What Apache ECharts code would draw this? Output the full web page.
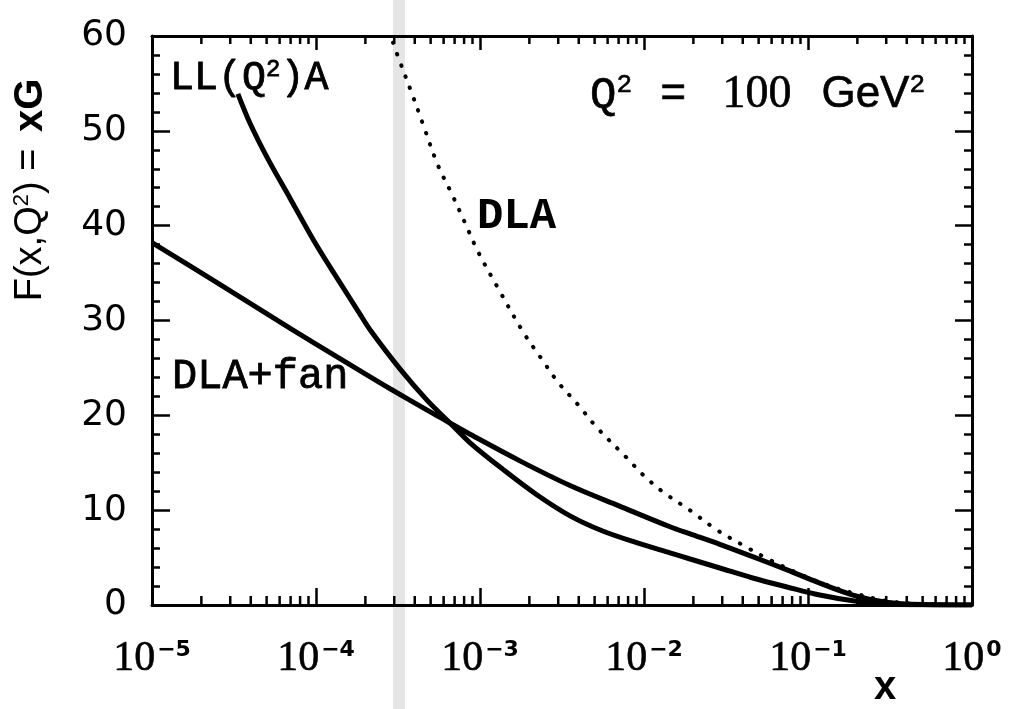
<!DOCTYPE html>
<html><head><meta charset="utf-8">
<script src="https://cdn.jsdelivr.net/npm/echarts@6/dist/echarts.min.js"></script>
<style>html,body{margin:0;padding:0;background:#fff}#c{width:1010px;height:709px}</style>
</head><body><div id="c"></div>
<script>
// ---- data ----
const xDecadeExponents = [-5, -4, -3, -2, -1, 0];        // x tick labels 10^n
const yTickLabels = [0, 10, 20, 30, 40, 50, 60];

const llaX = [3.34e-5, 3.96e-5, 5.03e-5, 6.94e-5, 1.01e-4, 1.4e-4, 1.85e-4, 2.14e-4, 3.25e-4, 4.75e-4, 6.56e-4, 8.7e-4, 1.38e-3, 2.23e-3, 3.54e-3, 5.6e-3, 9.1e-3, 1.44e-2, 1.91e-2, 2.9e-2, 4.6e-2, 7.45e-2, 0.118, 0.188, 0.3, 0.5, 1];
const llaY = [53.9, 50.8, 47.2, 42.9, 37.9, 34.0, 30.7, 29.0, 24.9, 21.6, 19.2, 17.1, 14.3, 11.6, 9.4, 7.8, 6.55, 5.5, 4.85, 3.9, 2.85, 1.9, 1.05, 0.45, 0.1, 0.02, 0];

const fanX = [1e-5, 2.49e-5, 5.47e-5, 9.6e-5, 2.14e-4, 2.83e-4, 5.16e-4, 7.2e-4, 8.7e-4, 1.75e-3, 3.54e-3, 7.15e-3, 1.44e-2, 1.91e-2, 2.9e-2, 4.6e-2, 7.45e-2, 0.118, 0.188, 0.3, 0.5, 1];
const fanY = [38.2, 34.0, 30.3, 27.7, 24.05, 22.8, 20.2, 18.8, 18.0, 15.2, 12.6, 10.4, 8.25, 7.5, 6.4, 5.1, 3.7, 2.3, 1.05, 0.3, 0.05, 0];

const dlaX = [2.95e-4, 3.12e-4, 3.85e-4, 4.49e-4, 5.5e-4, 6.75e-4, 8.1e-4, 9.7e-4, 1.27e-3, 1.83e-3, 2.32e-3, 2.99e-3, 3.97e-3, 5.17e-3, 7.87e-3, 9.9e-3, 1.31e-2, 1.9e-2, 2.79e-2, 4.02e-2, 5.86e-2, 8.57e-2, 0.131, 0.188, 0.3, 0.5, 1];
const dlaY = [59.3, 58.1, 53.9, 50.7, 46.5, 43.3, 40.3, 37.3, 33.6, 28.8, 26.2, 23.5, 21.1, 18.7, 15.5, 13.7, 11.9, 10.0, 7.9, 6.3, 4.75, 3.4, 2.1, 1.27, 0.45, 0.08, 0];

// ---- build ----
const zip = (xs, ys) => xs.map((x, i) => [x, ys[i]]);
const minorX = [];
for (let i = 0; i < xDecadeExponents.length - 1; i++) {
  for (let k = 2; k <= 9; k++) minorX.push([k * Math.pow(10, xDecadeExponents[i]), 0]);
}
const yMin = yTickLabels[0], yMax = yTickLabels[yTickLabels.length - 1];

const chart = echarts.init(document.getElementById('c'), null, {renderer: 'canvas'});
const axisLine = {show: true, onZero: false, lineStyle: {color: '#000', width: 3}};
const supToken = {fontSize: 22, fontWeight: 'bold', fontFamily: 'DejaVu Sans', color: '#000', verticalAlign: 'top', lineHeight: 22, padding: [0, 0, 0, 2]};

const option = {
  backgroundColor: '#fff',
  animation: false,
  grid: {left: 152, right: 38, top: 36, bottom: 104, containLabel: false},
  xAxis: [{
    type: 'log', logBase: 10, min: 1e-5, max: 1, position: 'bottom',
    axisLine: axisLine,
    axisTick: {show: true, inside: true, length: 17, lineStyle: {color: '#000', width: 2.5}},
    splitLine: {show: false},
    axisLabel: {
      margin: 34, color: '#000',
      formatter: v => {
        const e = Math.round(Math.log10(v));
        return '{b|10}{s|' + (e === 0 ? '0' : '\u2212' + (-e)) + '}';
      },
      rich: {
        b: {fontSize: 42, fontFamily: 'Liberation Serif', color: '#000', lineHeight: 40, verticalAlign: 'middle', textBorderColor: '#000', textBorderWidth: 0.6},
        s: supToken
      }
    }
  }, {
    type: 'log', logBase: 10, min: 1e-5, max: 1, position: 'top',
    axisLine: axisLine,
    axisTick: {show: true, inside: true, length: 14, lineStyle: {color: '#000', width: 2.5}},
    axisLabel: {show: false}, splitLine: {show: false}
  }],
  yAxis: [{
    type: 'value', min: yMin, max: yMax, interval: 10, position: 'left',
    axisLine: axisLine,
    axisTick: {show: true, inside: true, length: 18, lineStyle: {color: '#000', width: 2.5}},
    minorTick: {show: true, splitNumber: 5, length: 8, lineStyle: {color: '#000', width: 2.5}},
    splitLine: {show: false},
    axisLabel: {margin: 25, color: '#000', fontSize: 36, fontFamily: 'DejaVu Sans'}
  }, {
    type: 'value', min: yMin, max: yMax, interval: 10, position: 'right',
    axisLine: axisLine,
    axisTick: {show: true, inside: true, length: 17, lineStyle: {color: '#000', width: 2.5}},
    minorTick: {show: true, splitNumber: 5, length: 8, lineStyle: {color: '#000', width: 2.5}},
    splitLine: {show: false}, axisLabel: {show: false}
  }],
  series: [
    {
      name: 'xMinorTicks', type: 'custom', xAxisIndex: 0, yAxisIndex: 0, data: minorX, clip: false, silent: true, z: 5,
      renderItem: (params, api) => {
        const x = api.value(0);
        const pb = api.coord([x, yMin]);
        const pt = api.coord([x, yMax]);
        const st = {stroke: '#000', lineWidth: 2.5};
        return {type: 'group', children: [
          {type: 'line', shape: {x1: pb[0], y1: pb[1], x2: pb[0], y2: pb[1] - 9}, style: st},
          {type: 'line', shape: {x1: pt[0], y1: pt[1], x2: pt[0], y2: pt[1] + 8}, style: st}
        ]};
      }
    },
    {name: 'LL(Q²)A', type: 'line', data: zip(llaX, llaY), showSymbol: false, smooth: 0.35,
     lineStyle: {color: '#000', width: 5}, z: 3},
    {name: 'DLA+fan', type: 'line', data: zip(fanX, fanY), showSymbol: false, smooth: 0.35,
     lineStyle: {color: '#000', width: 5}, z: 3},
    {name: 'DLA', type: 'line', data: zip(dlaX, dlaY), showSymbol: false, smooth: 0.35,
     lineStyle: {color: '#000', width: 4, type: [0.5, 11.5], cap: 'round'}, z: 3}
  ],
  graphic: [
    {type: 'rect', z: -10, silent: true, shape: {x: 393, y: 0, width: 12, height: 709}, style: {fill: 'rgba(150,150,150,0.25)'}},
    {type: 'text', x: 31, y: 190, rotation: Math.PI / 2, silent: true,
     style: {text: 'F(x,Q{s|2}) = {b|xG}', fill: '#000', font: '38px "Liberation Sans"', textAlign: 'center', textVerticalAlign: 'middle',
       rich: {s: {fontSize: 22, fontFamily: 'Liberation Sans', verticalAlign: 'top', lineHeight: 22}, b: {fontSize: 40, fontWeight: 'bold', fontFamily: 'Liberation Sans', padding: [0, 0, 0, 6]}}}},
    {type: 'text', x: 885, y: 688, silent: true,
     style: {text: 'x', fill: '#000', font: 'bold 40px "Liberation Sans"', textAlign: 'center', textVerticalAlign: 'middle'}},
    {type: 'text', x: 170, y: 78, silent: true,
     style: {text: 'LL(Q{s|2})A', fill: '#000', font: '40px "Liberation Mono"', textAlign: 'left', textVerticalAlign: 'middle', stroke: '#000', lineWidth: 0.8,
       rich: {s: {fontSize: 24, fontFamily: 'Liberation Mono', verticalAlign: 'top', lineHeight: 22}}}},
    {type: 'text', x: 172, y: 377, silent: true,
     style: {text: 'DLA+fan', fill: '#000', font: '42px "Liberation Mono"', textAlign: 'left', textVerticalAlign: 'middle', stroke: '#000', lineWidth: 0.8}},
    {type: 'text', x: 477, y: 217, silent: true,
     style: {text: 'DLA', fill: '#000', font: 'bold 44px "Liberation Mono"', textAlign: 'left', textVerticalAlign: 'middle'}},
    {type: 'text', x: 590, y: 95, silent: true,
     style: {text: 'Q{s|2}{e|=}{n|100}{g|GeV}{s|2}', fill: '#000', font: '44px "Liberation Mono"', textAlign: 'left', textVerticalAlign: 'middle', stroke: '#000', lineWidth: 0.6,
       rich: {s: {fontSize: 26, fontFamily: 'Liberation Mono', verticalAlign: 'top', lineHeight: 24},
              e: {fontSize: 44, fontFamily: 'Liberation Mono', padding: [0, 0, 0, 28]},
              n: {fontSize: 46, fontFamily: 'Liberation Serif', padding: [0, 0, 0, 36]},
              g: {fontSize: 44, fontFamily: 'Liberation Sans', padding: [0, 0, 0, 30]}}}}
  ]
};
chart.setOption(option);
</script>
</body></html>
